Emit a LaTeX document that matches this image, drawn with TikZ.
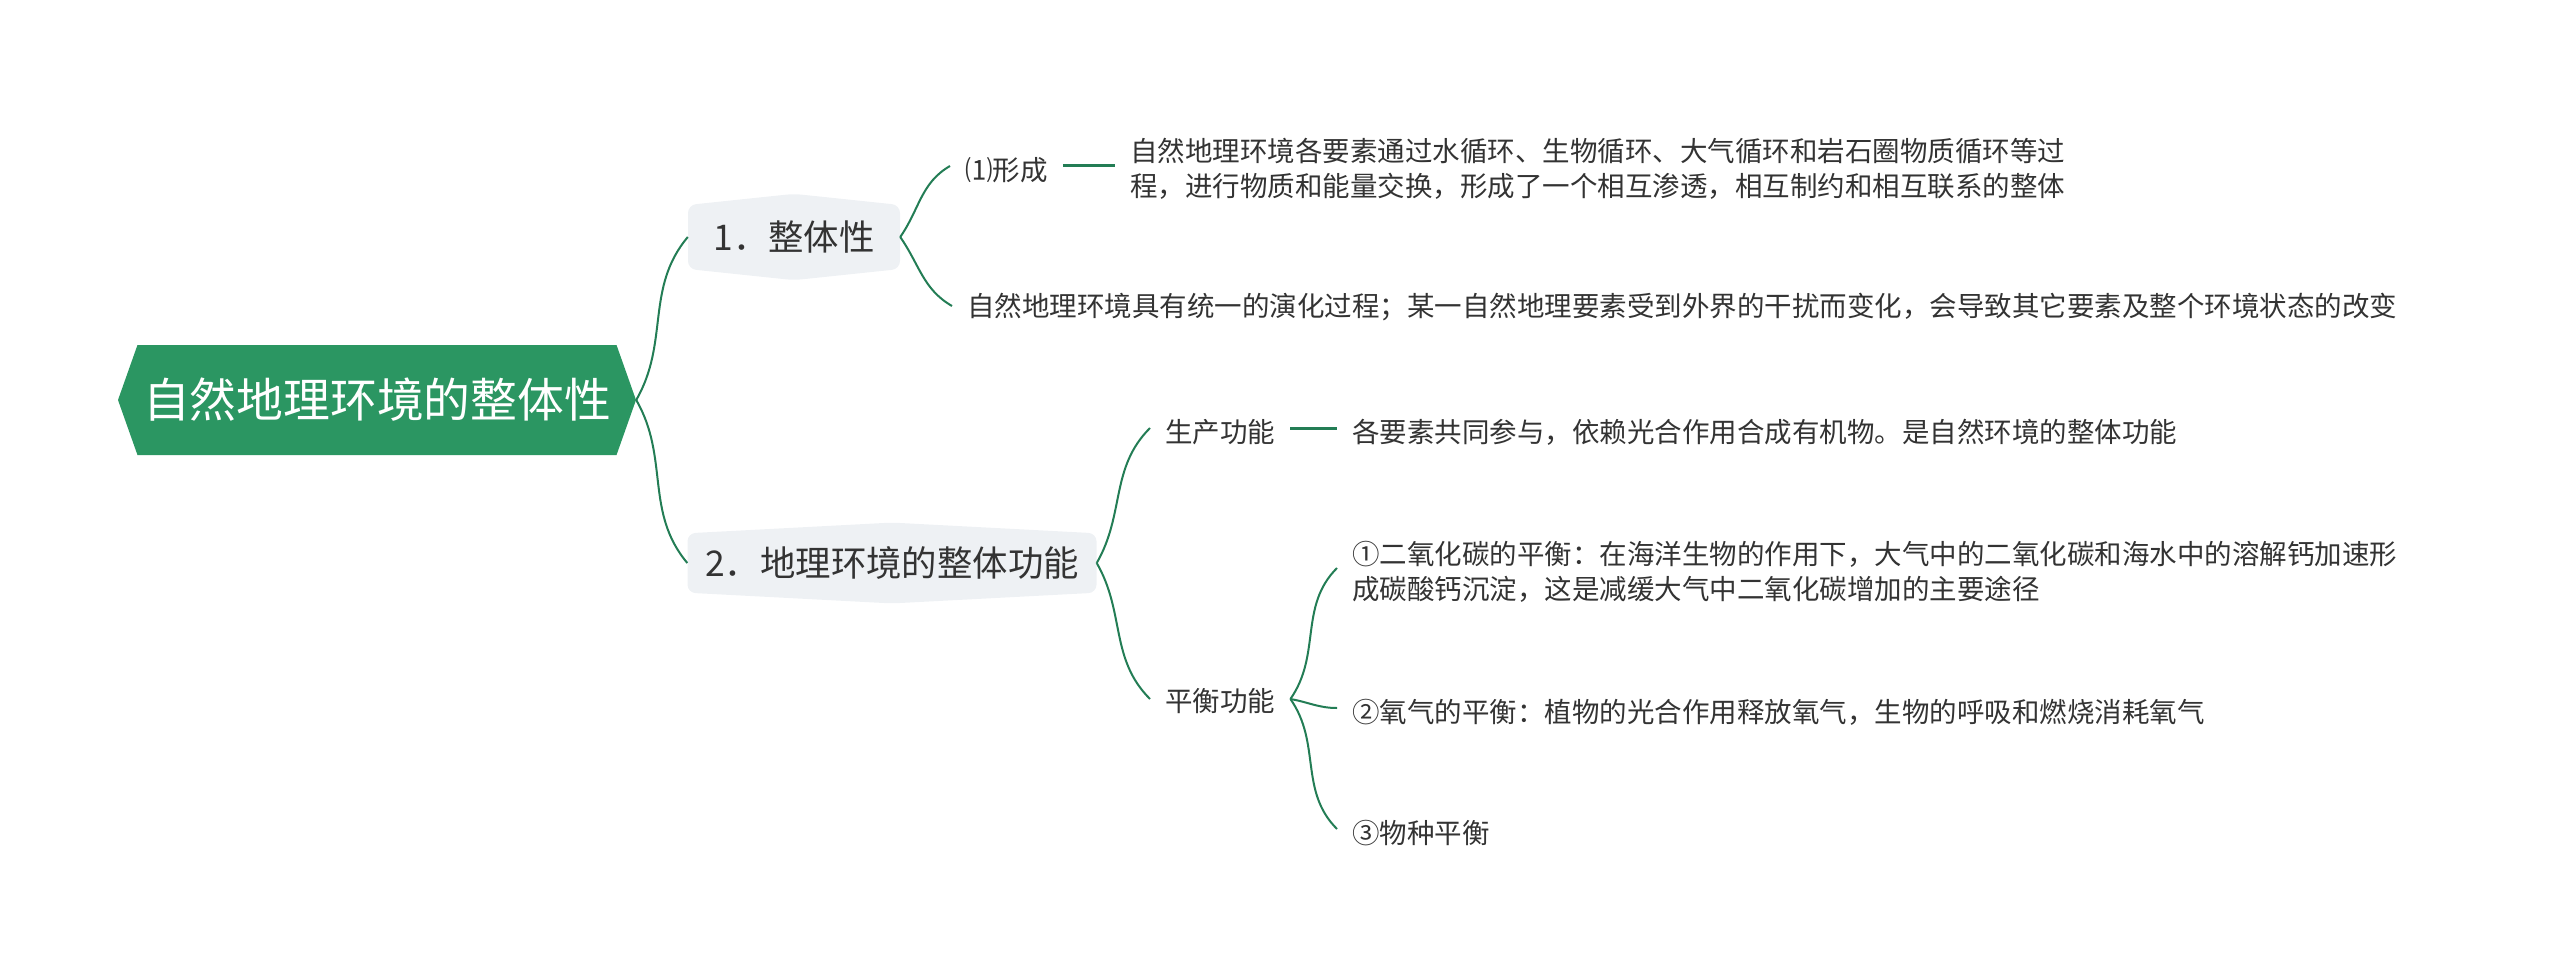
\documentclass[tikz,border=0pt]{standalone}
\usepackage{fontspec}
\usetikzlibrary{shapes.symbols}
\newfontfamily\cjk{Noto Sans CJK SC}
\definecolor{rootgreen}{HTML}{2B9662}
\definecolor{linegreen}{HTML}{237D55}
\definecolor{topicgray}{HTML}{EEF1F4}
\definecolor{textgray}{HTML}{333333}

\tikzset{
  rootbox/.style={shape=signal, signal to=west and east, signal pointer angle=141,
    fill=rootgreen, text=white, minimum width=518pt, minimum height=110pt, inner sep=0pt,
    font=\cjk\fontsize{46.8pt}{56pt}\selectfont},
  topicbox/.style={shape=signal, signal to=north and south, fill=topicgray, rounded corners=8pt,
    text=textgray, inner sep=0pt, font=\cjk\fontsize{35.4pt}{42pt}\selectfont},
  leaf/.style={anchor=west, text=textgray, inner xsep=15pt, inner ysep=2pt, align=left,
    font=\cjk\fontsize{27.5pt}{35pt}\selectfont},
  branch/.style={draw=linegreen, line width=2pt},
  stub/.style={draw=linegreen, line width=3pt}
}

\begin{document}
\begin{tikzpicture}[x=1pt, y=-1pt]
\useasboundingbox (0,0) rectangle (2560,979);

% Root and main topics
\node[rootbox] (root) at (377,400) {自然地理环境的整体性};
\node[topicbox, minimum width=212pt, minimum height=81pt, signal pointer angle=168] (whole) at (794,237) {1．整体性};
\node[topicbox, minimum width=409pt, minimum height=79pt, signal pointer angle=174] (func) at (892,563) {2．地理环境的整体功能};

\draw[branch] (root.east) to[out=60, in=230] (whole.west);
\draw[branch] (root.east) to[out=-60, in=130] (func.west);

% Wholeness
\node[leaf] (form) at (950,170) {⑴形成};
\node[leaf] (formtxt) at (1115,169) {自然地理环境各要素通过水循环、生物循环、大气循环和岩石圈物质循环等过\\程，进行物质和能量交换，形成了一个相互渗透，相互制约和相互联系的整体};
\node[leaf] (evol) at (952,307) {自然地理环境具有统一的演化过程；某一自然地理要素受到外界的干扰而变化，会导致其它要素及整个环境状态的改变};

\draw[branch] (whole.east) to[out=55, in=210] ([yshift=4pt]form.west);
\draw[branch] (whole.east) to[out=-55, in=150] ([yshift=1pt]evol.west);
\draw[stub] ([yshift=4pt]form.east) -- ([yshift=4pt]form.east -| formtxt.west);

% Functions
\node[leaf] (prod) at (1150,432) {生产功能};
\node[leaf] (prodtxt) at (1337,432) {各要素共同参与，依赖光合作用合成有机物。是自然环境的整体功能};
\node[leaf] (bal) at (1150,701) {平衡功能};
\node[leaf] (co2) at (1337,572) {①二氧化碳的平衡：在海洋生物的作用下，大气中的二氧化碳和海水中的溶解钙加速形\\成碳酸钙沉淀，这是减缓大气中二氧化碳增加的主要途径};
\node[leaf] (oxy) at (1337,712) {②氧气的平衡：植物的光合作用释放氧气，生物的呼吸和燃烧消耗氧气};
\node[leaf] (spec) at (1337,833) {③物种平衡};

\draw[branch] (func.east) to[out=60, in=225] ([yshift=4pt]prod.west);
\draw[branch] (func.east) to[out=-60, in=135] ([yshift=2pt]bal.west);
\draw[stub] ([yshift=4pt]prod.east) -- ([yshift=4pt]prodtxt.west);

\foreach \c/\o/\i in {co2/55/225, oxy/-10/180, spec/-55/135} {
  \draw[branch] ([yshift=2pt]bal.east) to[out=\o, in=\i] ([yshift=4pt]\c.west);
}
\end{tikzpicture}
\end{document}
